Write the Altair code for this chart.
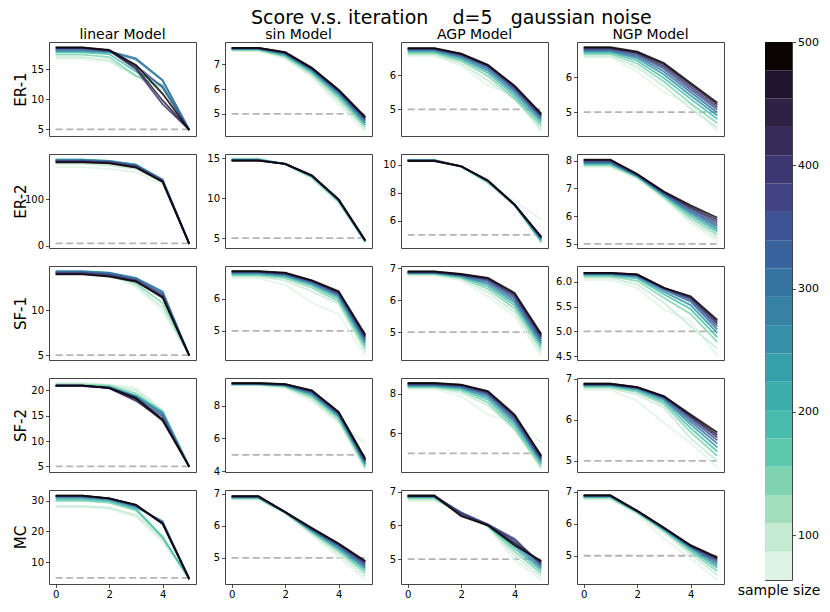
import altair as alt
import numpy as np
import pandas as pd

ITERATIONS = [0, 1, 2, 3, 4, 5]
SAMPLE_SIZES = [50, 100, 150, 200, 250, 300, 350, 400, 450, 500]
GRAPHS = ["ER-1", "ER-2", "SF-1", "SF-2", "MC"]
MODELS = ["linear", "sin", "AGP", "NGP"]
REF_LEVEL = 5

# each panel: one row per sample size (light -> dark), one value per iteration
ER1_linear = [
    [16.7, 16.7, 16.2, 14.0, 11.2, 4.8], [17.0, 17.0, 16.5, 13.8, 11.6, 4.8],
    [17.4, 17.4, 17.0, 13.9, 12.0, 4.85], [17.8, 17.8, 17.5, 14.6, 12.3, 4.9],
    [18.0, 18.0, 17.8, 16.6, 13.1, 4.9], [18.2, 18.2, 18.0, 16.8, 13.2, 4.9],
    [18.4, 18.4, 18.0, 15.6, 12.0, 4.9], [18.5, 18.5, 18.1, 15.0, 9.2, 4.9],
    [18.55, 18.55, 18.1, 15.3, 9.8, 4.9], [18.6, 18.6, 18.2, 15.7, 10.9, 4.85]]
ER1_sin = [
    [7.52, 7.52, 7.22, 6.48, 5.37, 4.27], [7.55, 7.55, 7.27, 6.55, 5.5, 4.38],
    [7.57, 7.57, 7.31, 6.62, 5.62, 4.48], [7.59, 7.59, 7.35, 6.68, 5.72, 4.56],
    [7.61, 7.61, 7.39, 6.73, 5.8, 4.63], [7.62, 7.62, 7.42, 6.77, 5.86, 4.7],
    [7.63, 7.63, 7.44, 6.8, 5.9, 4.76], [7.64, 7.64, 7.46, 6.82, 5.93, 4.81],
    [7.65, 7.65, 7.47, 6.84, 5.95, 4.85], [7.65, 7.65, 7.48, 6.85, 5.97, 4.88]]
ER1_AGP = [
    [6.57, 6.57, 6.28, 5.7, 5.44, 4.32], [6.61, 6.61, 6.35, 5.85, 5.3, 4.42],
    [6.65, 6.65, 6.42, 5.98, 5.32, 4.52], [6.69, 6.69, 6.47, 6.07, 5.4, 4.6],
    [6.72, 6.72, 6.52, 6.14, 5.48, 4.67], [6.75, 6.75, 6.56, 6.2, 5.55, 4.73],
    [6.77, 6.77, 6.59, 6.25, 5.6, 4.78], [6.78, 6.78, 6.61, 6.28, 5.64, 4.82],
    [6.79, 6.79, 6.63, 6.3, 5.67, 4.85], [6.8, 6.8, 6.64, 6.31, 5.7, 4.88]]
ER1_NGP = [
    [6.58, 6.58, 6.17, 5.57, 5.22, 4.45], [6.62, 6.62, 6.3, 5.75, 5.1, 4.55],
    [6.67, 6.67, 6.4, 5.88, 5.25, 4.68], [6.71, 6.71, 6.48, 5.98, 5.38, 4.8],
    [6.75, 6.75, 6.55, 6.08, 5.48, 4.9], [6.78, 6.78, 6.6, 6.17, 5.57, 4.99],
    [6.81, 6.81, 6.65, 6.25, 5.65, 5.07], [6.83, 6.83, 6.69, 6.31, 5.72, 5.14],
    [6.85, 6.85, 6.72, 6.37, 5.79, 5.21], [6.87, 6.87, 6.74, 6.41, 5.84, 5.27]]

ER2_linear = [
    [169, 169, 165, 158, 131, 4], [176, 176, 172, 165, 136, 4],
    [182, 182, 179, 171, 140, 4], [185, 185, 182, 174, 142, 4],
    [185, 185, 182, 174, 142, 4], [184, 184, 181, 173, 141, 4],
    [182, 182, 180, 171, 140, 4], [181, 181, 179, 170, 139, 4],
    [180, 180, 178, 169, 138, 4], [179, 179, 177, 168, 137, 4]]
ER2_sin = [
    [15.0, 15.0, 14.2, 12.4, 9.34, 4.46], [14.95, 14.95, 14.25, 12.55, 9.5, 4.5],
    [14.9, 14.9, 14.25, 12.65, 9.6, 4.54], [14.85, 14.85, 14.3, 12.72, 9.68, 4.58],
    [14.8, 14.8, 14.3, 12.77, 9.74, 4.61], [14.78, 14.78, 14.3, 12.8, 9.78, 4.64],
    [14.75, 14.75, 14.3, 12.82, 9.8, 4.66], [14.73, 14.73, 14.3, 12.83, 9.82, 4.68],
    [14.71, 14.71, 14.3, 12.84, 9.84, 4.69], [14.7, 14.7, 14.3, 12.85, 9.85, 4.7]]
ER2_AGP = [
    [10.35, 10.35, 9.8, 8.62, 7.4, 6.12], [10.33, 10.33, 9.84, 8.7, 7.1, 4.4],
    [10.32, 10.32, 9.86, 8.75, 7.12, 4.5], [10.31, 10.31, 9.87, 8.79, 7.13, 4.58],
    [10.3, 10.3, 9.88, 8.81, 7.14, 4.65], [10.29, 10.29, 9.88, 8.83, 7.14, 4.71],
    [10.28, 10.28, 9.88, 8.84, 7.15, 4.76], [10.27, 10.27, 9.88, 8.85, 7.15, 4.8],
    [10.26, 10.26, 9.88, 8.86, 7.15, 4.84], [10.25, 10.25, 9.88, 8.87, 7.15, 4.87]]
ER2_NGP = [
    [7.76, 7.76, 7.35, 6.62, 5.74, 5.1], [7.8, 7.8, 7.38, 6.66, 5.84, 5.22],
    [7.84, 7.84, 7.41, 6.7, 5.93, 5.34], [7.88, 7.88, 7.43, 6.74, 6.02, 5.44],
    [7.91, 7.91, 7.45, 6.77, 6.1, 5.53], [7.94, 7.94, 7.47, 6.8, 6.17, 5.62],
    [7.97, 7.97, 7.48, 6.83, 6.23, 5.7], [8.0, 8.0, 7.5, 6.85, 6.29, 5.78],
    [8.02, 8.02, 7.51, 6.87, 6.34, 5.86], [8.04, 8.04, 7.52, 6.89, 6.39, 5.94]]

SF1_linear = [
    [14.1, 14.1, 13.95, 12.6, 9.9, 4.95], [14.15, 14.15, 14.0, 12.8, 10.3, 4.95],
    [14.2, 14.2, 14.05, 13.0, 10.8, 4.95], [14.28, 14.28, 14.12, 13.35, 11.5, 4.95],
    [14.35, 14.35, 14.2, 13.6, 12.1, 4.95], [14.3, 14.3, 14.15, 13.55, 12.0, 4.95],
    [14.2, 14.2, 14.0, 13.4, 11.8, 4.95], [14.1, 14.1, 13.9, 13.3, 11.6, 4.95],
    [14.05, 14.05, 13.8, 13.25, 11.5, 4.95], [14.0, 14.0, 13.75, 13.2, 11.4, 4.95]]
SF1_sin = [
    [6.64, 6.64, 6.44, 5.88, 5.52, 4.23], [6.7, 6.7, 6.58, 6.24, 5.84, 4.35],
    [6.74, 6.74, 6.65, 6.35, 5.92, 4.45], [6.77, 6.77, 6.7, 6.42, 6.0, 4.54],
    [6.8, 6.8, 6.73, 6.47, 6.07, 4.62], [6.82, 6.82, 6.76, 6.51, 6.12, 4.69],
    [6.84, 6.84, 6.78, 6.54, 6.16, 4.75], [6.85, 6.85, 6.8, 6.56, 6.19, 4.8],
    [6.86, 6.86, 6.81, 6.57, 6.22, 4.84], [6.87, 6.87, 6.82, 6.58, 6.24, 4.88]]
SF1_AGP = [
    [6.77, 6.77, 6.62, 6.12, 5.5, 4.24], [6.8, 6.8, 6.66, 6.25, 5.62, 4.36],
    [6.82, 6.82, 6.7, 6.35, 5.74, 4.47], [6.84, 6.84, 6.73, 6.43, 5.84, 4.56],
    [6.85, 6.85, 6.75, 6.5, 5.93, 4.64], [6.86, 6.86, 6.77, 6.56, 6.01, 4.71],
    [6.87, 6.87, 6.79, 6.61, 6.08, 4.78], [6.88, 6.88, 6.8, 6.65, 6.14, 4.84],
    [6.89, 6.89, 6.81, 6.68, 6.19, 4.89], [6.9, 6.9, 6.82, 6.7, 6.23, 4.94]]
SF1_NGP = [
    [6.04, 6.04, 5.88, 5.44, 5.21, 4.5], [6.08, 6.08, 5.95, 5.58, 5.1, 4.65],
    [6.11, 6.11, 6.02, 5.68, 5.35, 4.78], [6.13, 6.13, 6.07, 5.75, 5.45, 4.88],
    [6.15, 6.15, 6.1, 5.8, 5.53, 4.97], [6.16, 6.16, 6.12, 5.84, 5.6, 5.04],
    [6.17, 6.17, 6.13, 5.86, 5.64, 5.1], [6.17, 6.17, 6.14, 5.87, 5.67, 5.15],
    [6.18, 6.18, 6.15, 5.88, 5.69, 5.19], [6.18, 6.18, 6.15, 5.88, 5.71, 5.23]]

SF2_linear = [
    [21.4, 21.4, 21.1, 20.5, 16.2, 4.9], [21.3, 21.3, 21.0, 20.0, 16.0, 4.9],
    [21.1, 21.1, 20.9, 19.4, 15.7, 4.9], [20.9, 20.9, 20.7, 19.0, 15.8, 4.9],
    [20.8, 20.8, 20.6, 18.8, 15.5, 4.9], [20.8, 20.8, 20.5, 18.7, 15.2, 4.9],
    [20.9, 20.9, 20.45, 18.3, 14.8, 4.9], [20.9, 20.9, 20.4, 17.9, 14.3, 4.9],
    [20.9, 20.9, 20.4, 18.2, 14.0, 4.9], [20.9, 20.9, 20.45, 18.5, 14.2, 4.9]]
SF2_sin = [
    [9.24, 9.24, 9.07, 8.26, 6.95, 5.69], [9.26, 9.26, 9.12, 8.4, 7.05, 4.12],
    [9.28, 9.28, 9.16, 8.52, 7.18, 4.25], [9.3, 9.3, 9.2, 8.62, 7.3, 4.36],
    [9.32, 9.32, 9.23, 8.7, 7.38, 4.45], [9.33, 9.33, 9.25, 8.77, 7.45, 4.53],
    [9.34, 9.34, 9.27, 8.83, 7.51, 4.6], [9.35, 9.35, 9.29, 8.87, 7.56, 4.66],
    [9.36, 9.36, 9.3, 8.9, 7.59, 4.72], [9.37, 9.37, 9.31, 8.93, 7.62, 4.77]]
SF2_AGP = [
    [8.23, 8.23, 7.87, 6.95, 6.53, 5.57], [8.28, 8.28, 8.05, 7.4, 6.2, 4.22],
    [8.32, 8.32, 8.15, 7.55, 6.25, 4.35], [8.36, 8.36, 8.23, 7.7, 6.4, 4.46],
    [8.4, 8.4, 8.29, 7.82, 6.55, 4.56], [8.43, 8.43, 8.34, 7.92, 6.66, 4.64],
    [8.46, 8.46, 8.38, 7.99, 6.76, 4.71], [8.49, 8.49, 8.41, 8.05, 6.84, 4.77],
    [8.51, 8.51, 8.43, 8.09, 6.9, 4.83], [8.53, 8.53, 8.45, 8.12, 6.95, 4.88]]
SF2_NGP = [
    [6.73, 6.73, 6.46, 5.93, 5.44, 4.84], [6.77, 6.77, 6.62, 6.3, 5.55, 5.0],
    [6.8, 6.8, 6.68, 6.38, 5.7, 5.12], [6.82, 6.82, 6.72, 6.44, 5.8, 5.23],
    [6.84, 6.84, 6.75, 6.49, 5.89, 5.33], [6.85, 6.85, 6.77, 6.52, 5.96, 5.42],
    [6.86, 6.86, 6.78, 6.55, 6.02, 5.5], [6.87, 6.87, 6.79, 6.56, 6.07, 5.57],
    [6.88, 6.88, 6.8, 6.57, 6.1, 5.63], [6.88, 6.88, 6.8, 6.58, 6.13, 5.69]]

MC_linear = [
    [27.9, 27.9, 27.3, 24.7, 16.6, 4.6], [28.2, 28.2, 27.7, 25.3, 17.5, 4.6],
    [29.9, 29.9, 29.3, 26.8, 17.9, 4.6], [30.4, 30.4, 29.8, 27.3, 18.3, 4.6],
    [30.9, 30.9, 30.2, 27.8, 23.3, 4.6], [31.2, 31.2, 30.5, 28.2, 23.0, 4.6],
    [31.4, 31.4, 30.6, 28.4, 22.8, 4.6], [31.5, 31.5, 30.7, 28.5, 22.6, 4.6],
    [31.6, 31.6, 30.7, 28.6, 22.5, 4.6], [31.6, 31.6, 30.7, 28.6, 22.5, 4.6]]
MC_sin = [
    [6.82, 6.82, 6.4, 5.7, 5.03, 4.31], [6.84, 6.84, 6.41, 5.75, 5.12, 4.42],
    [6.86, 6.86, 6.41, 5.79, 5.2, 4.52], [6.88, 6.88, 6.42, 5.82, 5.26, 4.6],
    [6.89, 6.89, 6.42, 5.85, 5.31, 4.67], [6.9, 6.9, 6.42, 5.87, 5.35, 4.73],
    [6.91, 6.91, 6.43, 5.89, 5.39, 4.78], [6.92, 6.92, 6.43, 5.91, 5.42, 4.83],
    [6.92, 6.92, 6.43, 5.92, 5.44, 4.87], [6.93, 6.93, 6.43, 5.93, 5.45, 4.9]]
MC_AGP = [
    [6.73, 6.73, 6.39, 5.95, 4.97, 4.38], [6.77, 6.77, 6.37, 5.97, 5.1, 4.48],
    [6.8, 6.8, 6.36, 5.98, 5.22, 4.57], [6.83, 6.83, 6.35, 5.99, 5.32, 4.65],
    [6.85, 6.85, 6.36, 6.0, 5.4, 4.72], [6.86, 6.86, 6.38, 6.02, 5.48, 4.78],
    [6.87, 6.87, 6.38, 6.03, 5.6, 4.83], [6.88, 6.88, 6.35, 6.02, 5.55, 4.87],
    [6.88, 6.88, 6.3, 6.01, 5.47, 4.91], [6.88, 6.88, 6.27, 6.0, 5.41, 4.94]]
MC_NGP = [
    [6.75, 6.75, 6.3, 5.54, 4.92, 4.25], [6.78, 6.78, 6.33, 5.72, 5.05, 4.4],
    [6.81, 6.81, 6.35, 5.78, 5.13, 4.52], [6.83, 6.83, 6.37, 5.81, 5.19, 4.62],
    [6.85, 6.85, 6.38, 5.83, 5.24, 4.7], [6.86, 6.86, 6.39, 5.85, 5.27, 4.77],
    [6.87, 6.87, 6.39, 5.86, 5.29, 4.83], [6.88, 6.88, 6.4, 5.87, 5.31, 4.88],
    [6.88, 6.88, 6.4, 5.87, 5.32, 4.92], [6.88, 6.88, 6.4, 5.87, 5.33, 4.95]]

PANELS = [
    [ER1_linear, ER1_sin, ER1_AGP, ER1_NGP],
    [ER2_linear, ER2_sin, ER2_AGP, ER2_NGP],
    [SF1_linear, SF1_sin, SF1_AGP, SF1_NGP],
    [SF2_linear, SF2_sin, SF2_AGP, SF2_NGP],
    [MC_linear, MC_sin, MC_AGP, MC_NGP],
]

Y_LIMITS = [
    [[3.9, 19.5], [4.11, 7.89], [4.22, 6.98], [4.31, 7.02]],
    [[-5, 197], [3.76, 15.54], [4.07, 10.75], [4.85, 8.24]],
    [[4.45, 14.93], [4.09, 7.03], [4.13, 7.07], [4.42, 6.32]],
    [[3.9, 22.4], [3.96, 9.68], [4.07, 8.78], [4.73, 7.02]],
    [[3.0, 33.4], [4.18, 7.12], [4.26, 7.05], [4.12, 7.05]],
]
Y_TICKS = [
    [[5, 10, 15], [5, 6, 7], [5, 6], [5, 6]],
    [[0, 100], [5, 10, 15], [6, 8, 10], [5, 6, 7, 8]],
    [[5, 10], [5, 6], [5, 6, 7], [4.5, 5.0, 5.5, 6.0]],
    [[5, 10, 15, 20], [4, 6, 8], [6, 8], [5, 6, 7]],
    [[10, 20, 30], [5, 6, 7], [5, 6, 7], [5, 6, 7]],
]
X_TICKS = [0, 2, 4]

CBAR_MIN, CBAR_MAX = 63.5, 500
CBAR_TICKS = [100, 200, 300, 400, 500]
CBAR_COLORS = ["#def5e5", "#c4ead2", "#a4dfbd", "#7fd3af", "#5dc9ab", "#48bdad",
               "#3caeac", "#36a0aa", "#3591a7", "#3582a4", "#3573a1", "#38639c",
               "#3e5394", "#414385", "#3e3670", "#362b59", "#2d2144", "#1f152f",
               "#0b0405"]

FONT = "DejaVu Sans"
NBSP = "\u00a0"
PW, PH = 147, 94
ROW_GAP, COL_GAP = 18, 29
CBAR_LEFT = 4 * PW + 3 * COL_GAP + 41   # from the grid's plot origin

edges = np.linspace(CBAR_MIN, CBAR_MAX, len(CBAR_COLORS) + 1)
color_scale = alt.Scale(type="threshold", domain=[float(e) for e in edges[1:-1]],
                        range=CBAR_COLORS)

xscale = alt.Scale(domain=[-0.25, 5.25], nice=False, zero=False)
ref_df = pd.DataFrame({"x0": [min(ITERATIONS)], "x1": [max(ITERATIONS)], "y": [REF_LEVEL]})


def make_panel(r, c):
    series = PANELS[r][c]
    rows = []
    for n, vals in zip(SAMPLE_SIZES, series):
        for it, v in zip(ITERATIONS, vals):
            rows.append({"iteration": it, "score": v, "n": n})
    df = pd.DataFrame(rows)
    yscale = alt.Scale(domain=Y_LIMITS[r][c], nice=False, zero=False)
    fmt = ".1f" if (r == 2 and c == 3) else "d"
    if c == 0:
        yaxis = alt.Axis(values=Y_TICKS[r][c], format=fmt, title=GRAPHS[r],
                         titleX=-29, titleY=PH / 2, titleAngle=270,
                         titleBaseline="middle", titleAlign="center")
    else:
        yaxis = alt.Axis(values=Y_TICKS[r][c], format=fmt, title=None)
    if r == len(GRAPHS) - 1:
        xaxis = alt.Axis(values=X_TICKS, title=None)
    else:
        xaxis = None
    rule = alt.Chart(ref_df).mark_rule(
        strokeDash=[7, 3.5], strokeWidth=1.8, color="#b4b4b4"
    ).encode(
        x=alt.X("x0:Q", scale=xscale, axis=xaxis),
        x2="x1:Q",
        y=alt.Y("y:Q", scale=yscale, axis=yaxis),
    )
    lines = alt.Chart(df).mark_line(strokeWidth=1.8, opacity=0.85).encode(
        x=alt.X("iteration:Q", scale=xscale, axis=xaxis),
        y=alt.Y("score:Q", scale=yscale, axis=yaxis),
        color=alt.Color("n:Q", scale=color_scale, legend=None),
        detail="n:N",
    )
    layer = alt.layer(rule, lines).properties(width=PW, height=PH)
    if r == 0:
        layer = layer.properties(title=alt.TitleParams(
            f"{MODELS[c]} Model", fontSize=14, fontWeight="normal", font=FONT,
            color="black", offset=0))
    return layer


grid = alt.concat(
    *[make_panel(r, c) for r in range(len(GRAPHS)) for c in range(4)],
    columns=4, spacing={"row": ROW_GAP, "column": COL_GAP}, bounds="flush")

cb_df = pd.DataFrame({"lo": edges[:-1], "hi": edges[1:],
                      "mid": (edges[:-1] + edges[1:]) / 2})
cbar = alt.Chart(cb_df).mark_rect().encode(
    x=alt.XDatum(0, type="quantitative", scale=alt.Scale(domain=[0, 1]),
                 axis=alt.Axis(title="sample size", labels=False, ticks=False,
                               titleFontSize=14, titlePadding=3)),
    x2=alt.X2Datum(1),
    y=alt.Y("lo:Q", scale=alt.Scale(domain=[CBAR_MIN, CBAR_MAX], nice=False, zero=False),
            axis=alt.Axis(orient="right", values=CBAR_TICKS, title=None, labelFontSize=11)),
    y2="hi:Q",
    color=alt.Color("mid:Q", scale=color_scale, legend=None),
).properties(width=27, height=5 * PH + 4 * ROW_GAP - 4)

title_text = ("Score v.s. iteration" + NBSP * 4 + "d=5" + NBSP * 3 + "gaussian noise")

# flush bounds: the nested grid counts as zero-size, so the colorbar is placed
# from the grid's plot origin
chart = alt.hconcat(grid, cbar, spacing=CBAR_LEFT, bounds="flush").resolve_scale(
    color="independent"
).properties(
    title=alt.TitleParams(title_text, fontSize=19, fontWeight="normal", font=FONT,
                          color="black", anchor="middle", dx=35, offset=0),
    padding={"left": 4, "top": 0, "right": 0, "bottom": 0},
    background="white",
).configure_view(stroke="#444", strokeWidth=1).configure_axis(
    labelFont=FONT, labelFontSize=10, labelColor="black", tickColor="#222",
    tickSize=3.5, tickWidth=0.8, domain=False, grid=False, labelPadding=2,
    titleFont=FONT, titleFontSize=15, titleFontWeight="normal", titleColor="black",
)

chart.save("out.html", embed_options={"renderer": "svg", "actions": False})
